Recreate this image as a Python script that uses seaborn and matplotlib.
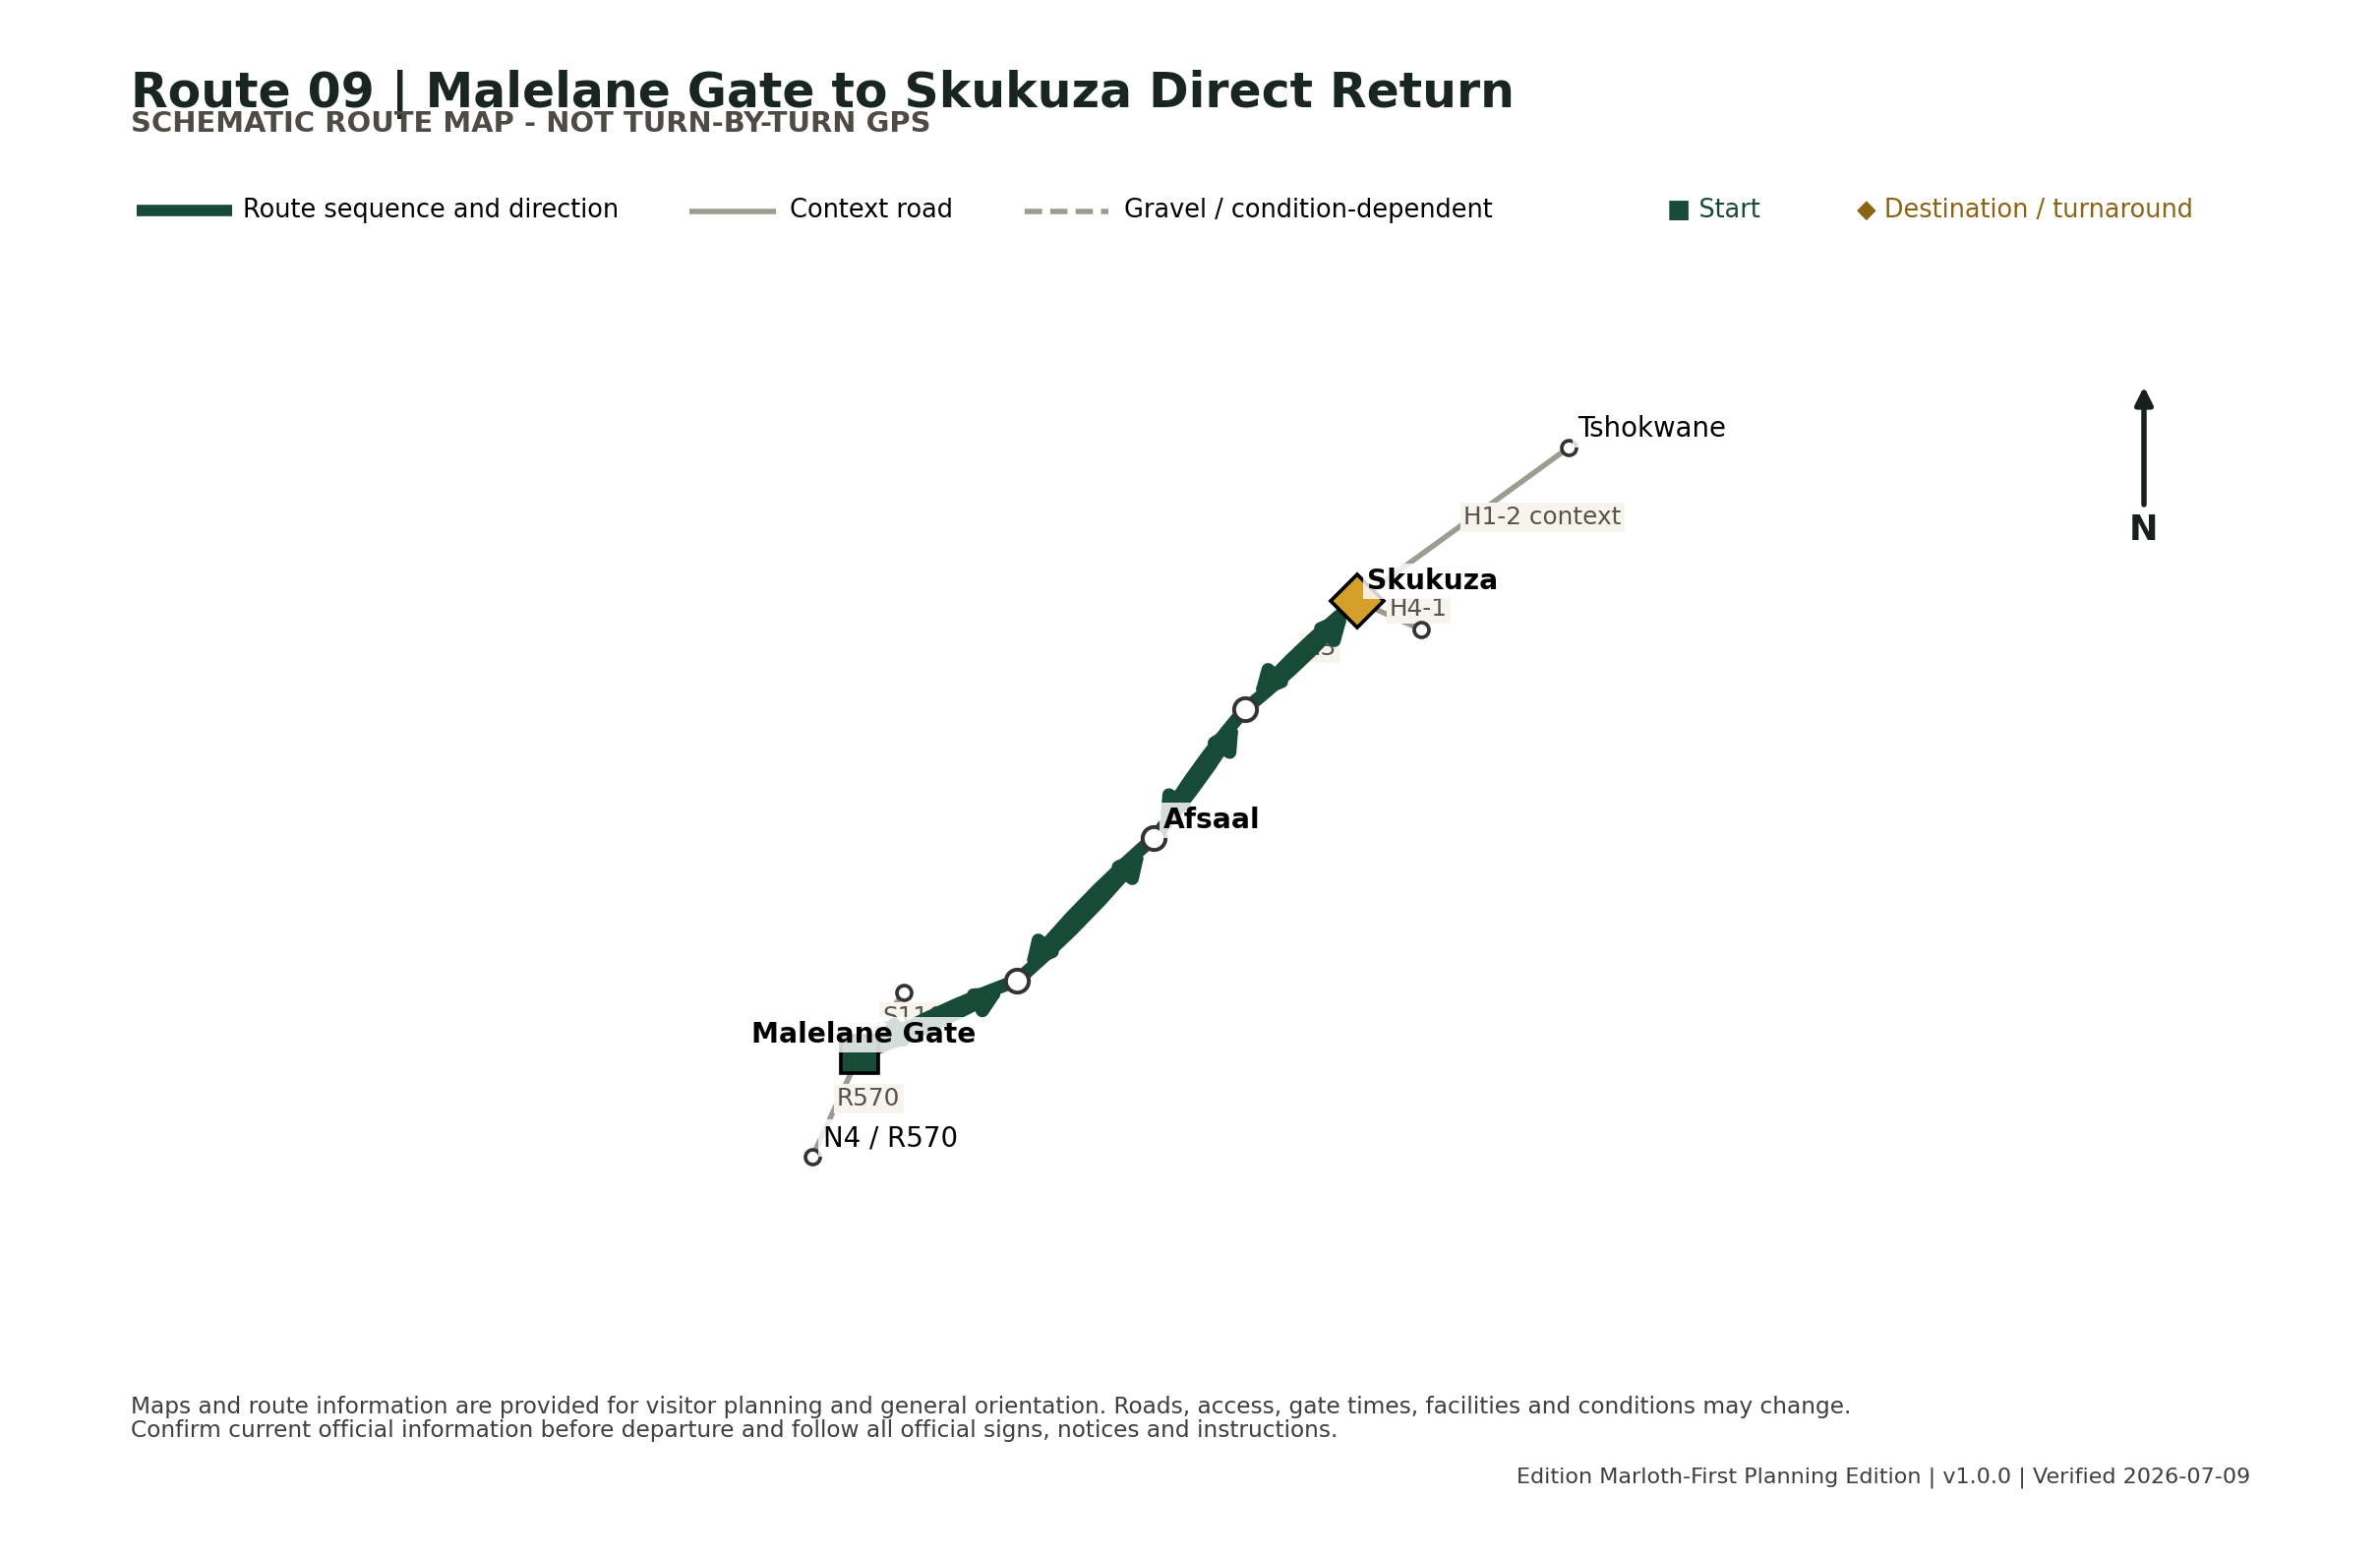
import numpy as np
import matplotlib
matplotlib.use("Agg")
import matplotlib.pyplot as plt
from matplotlib.patches import FancyArrowPatch
import pandas as pd
import seaborn as sns

# values, in map units (1 unit = 1 output pixel)
route_stops = ["Malelane Gate", "Via 1", "Afsaal", "Via 2", "Skukuza"]
route_x = [874, 1034, 1173, 1266, 1380]
route_y = [1072, 997, 852, 721, 611]

roads = ["R570", "S110", "H1-2 context", "H4-1"]
road_from_x = [874, 874, 1380, 1380]
road_from_y = [1072, 1072, 611, 611]
road_to_x = [826, 919, 1595, 1445]
road_to_y = [1176, 1009, 455, 640]
road_label_x = [851, 897, 1488, 1413]
road_label_y = [1117, 1034, 526, 619]
h3_label_x = 1342
h3_label_y = 659

place_names = ["N4 / R570", "Tshokwane"]
place_label_x = [837, 1604]
place_label_y = [1157, 436]

bold_names = ["Malelane Gate", "Afsaal", "Skukuza"]
bold_label_x = [764, 1183, 1390]
bold_label_y = [1052, 834, 591]

GREEN = "#174a37"
GOLD = "#d4a02a"
ROAD = "#9c9c90"
INK = "#18261f"

sns.set_theme(style="white")
plt.rcParams["font.family"] = ["DejaVu Sans"]

fig = plt.figure(figsize=(11, 7.2), dpi=220)
ax = fig.add_axes([0, 0, 1, 1])
ax.set_xlim(0, 2420)
ax.set_ylim(1584, 0)
ax.axis("off")

# context roads
for i, name in enumerate(roads):
    df = pd.DataFrame({"x": [road_from_x[i], road_to_x[i]], "y": [road_from_y[i], road_to_y[i]]})
    sns.lineplot(data=df, x="x", y="y", ax=ax, color=ROAD, linewidth=1.8, sort=False, estimator=None, zorder=2)
    ax.text(road_label_x[i], road_label_y[i], name, fontsize=8.1, color="#55534c", va="center", zorder=3,
            bbox=dict(facecolor="#f7f4ee", edgecolor="none", pad=1.1))
ax.text(h3_label_x, h3_label_y, "H3", fontsize=8.1, color="#55534c", ha="center", va="center", zorder=3,
        bbox=dict(facecolor="#f7f4ee", edgecolor="none", pad=1.1))

ends = pd.DataFrame({"x": road_to_x, "y": road_to_y})
sns.scatterplot(data=ends, x="x", y="y", ax=ax, s=24, color="white", edgecolor="#333333", linewidth=1.2, zorder=4, legend=False)

# route, out and back on slightly different arcs
for i in range(len(route_x) - 1):
    a = (route_x[i], route_y[i])
    b = (route_x[i + 1], route_y[i + 1])
    for p, q in [(a, b), (b, a)]:
        ax.add_patch(FancyArrowPatch(p, q, arrowstyle="-|>,head_length=0.4,head_width=0.2", mutation_scale=15,
                                     connectionstyle="arc3,rad=0.045", color=GREEN, linewidth=4.4,
                                     capstyle="round", joinstyle="round", shrinkA=4, shrinkB=4, zorder=5))

stops = pd.DataFrame({"x": route_x[1:4], "y": route_y[1:4]})
sns.scatterplot(data=stops, x="x", y="y", ax=ax, s=58, color="white", edgecolor="#333333", linewidth=1.3, zorder=6, legend=False)
ax.plot(route_x[0], route_y[0], marker="s", ms=12.5, mfc=GREEN, mec="black", mew=1.2, zorder=7)
ax.plot(route_x[-1], route_y[-1], marker="D", ms=12.5, mfc=GOLD, mec="black", mew=1.2, zorder=7)

for name, x, y in zip(place_names, place_label_x, place_label_y):
    ax.text(x, y, name, fontsize=9.05, color="black", va="center", zorder=8,
            bbox=dict(facecolor="white", edgecolor="none", alpha=0.82, pad=1.5))
for name, x, y in zip(bold_names, bold_label_x, bold_label_y):
    ax.text(x, y, name, fontsize=9.2, fontweight="bold", color="black", va="center", zorder=8,
            bbox=dict(facecolor="white", edgecolor="none", alpha=0.82, pad=1.5))

# north arrow
ax.annotate("", xy=(2180, 393), xytext=(2180, 513),
            arrowprops=dict(arrowstyle="-|>", color="#18201c", lw=1.8, mutation_scale=12, shrinkA=0, shrinkB=0))
ax.text(2180, 539, "N", fontsize=11.5, fontweight="bold", color="#18201c", ha="center", va="center")

# header
ax.text(133, 96, "Route 09 | Malelane Gate to Skukuza Direct Return", fontsize=16, fontweight="bold", color=INK, va="center")
ax.text(133, 126, "SCHEMATIC ROUTE MAP - NOT TURN-BY-TURN GPS", fontsize=9.5, fontweight="bold", color="#4d4b44", va="center")

# legend row
ax.plot([139, 236], [214, 214], color=GREEN, lw=3.8, solid_capstyle="butt")
ax.text(247, 214, "Route sequence and direction", fontsize=8.4, color="black", va="center")
ax.plot([701, 789], [215, 215], color=ROAD, lw=1.8, solid_capstyle="butt")
ax.text(803, 214, "Context road", fontsize=8.4, color="black", va="center")
ax.plot([1042, 1127], [215, 215], color=ROAD, lw=1.8, ls=(0, (3.2, 1.5)))
ax.text(1143, 214, "Gravel / condition-dependent", fontsize=8.4, color="black", va="center")
ax.text(1695, 214, "■ Start", fontsize=8.4, color=GREEN, va="center")
ax.text(1888, 214, "◆ Destination / turnaround", fontsize=8.4, color="#8a6414", va="center")

# footer
ax.text(133, 1430, "Maps and route information are provided for visitor planning and general orientation. Roads, access, gate times, facilities and conditions may change.",
        fontsize=7.6, color="#3f3f3b", va="center")
ax.text(133, 1455, "Confirm current official information before departure and follow all official signs, notices and instructions.",
        fontsize=7.6, color="#3f3f3b", va="center")
ax.text(2288, 1502, "Edition Marloth-First Planning Edition | v1.0.0 | Verified 2026-07-09", fontsize=7.3, color="#3f3f3b", ha="right", va="center")

fig.savefig("out.png", dpi=220, facecolor="white")
